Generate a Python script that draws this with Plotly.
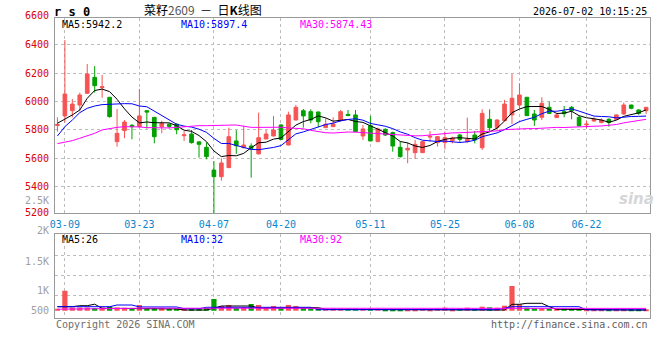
import plotly.graph_objects as go

# ---------------- data ----------------
dates = [
    "03-06", "03-09", "03-10", "03-11", "03-12", "03-13", "03-16", "03-17", "03-18", "03-19", "03-20",
    "03-23", "03-24", "03-25", "03-26", "03-27", "03-30", "03-31",
    "04-01", "04-02", "04-03", "04-07", "04-08", "04-09", "04-10", "04-13", "04-14", "04-15", "04-16",
    "04-17", "04-20", "04-21", "04-22", "04-23", "04-24", "04-27", "04-28", "04-29", "04-30",
    "05-06", "05-07", "05-08", "05-11", "05-12", "05-13", "05-14", "05-15", "05-18", "05-19", "05-20",
    "05-21", "05-22", "05-25", "05-26", "05-27", "05-28", "05-29",
    "06-01", "06-02", "06-03", "06-04", "06-05", "06-08", "06-09", "06-10", "06-11", "06-12", "06-15",
    "06-16", "06-17", "06-18", "06-22", "06-23", "06-24", "06-25", "06-26", "06-29", "06-30",
    "07-01", "07-02",
]

opens = [5830, 5898, 5935, 5975, 6058, 6171, 6098, 6030, 5716, 5794,
         5832, 5822, 5935, 5888, 5822, 5839, 5839, 5758, 5770, 5714,
         5676, 5515, 5468, 5532, 5721, 5673, 5685, 5629, 5735, 5756,
         5834, 5692, 5869, 5935, 5928, 5926, 5815, 5822, 5865, 5909,
         5905, 5756, 5829, 5716, 5803, 5780, 5676, 5657, 5638, 5638,
         5748, 5709, 5709, 5723, 5763, 5716, 5763, 5673, 5874, 5817,
         5865, 5905, 5975, 6030, 5912, 5888, 5959, 5886, 5928, 5959,
         5888, 5835, 5862, 5851, 5874, 5874, 5912, 5975, 5940, 5935]
highs = [5888, 6435, 6018, 6063, 6265, 6251, 6188, 6032, 5947, 5869,
         5840, 6089, 5940, 5890, 5864, 5846, 5846, 5791, 5798, 5721,
         5711, 5579, 5598, 5815, 5798, 5829, 5704, 5921, 5798, 5898,
         5839, 5928, 5976, 5947, 5945, 5928, 5881, 5888, 5940, 5940,
         5940, 5834, 5898, 5815, 5810, 5787, 5716, 5709, 5728, 5720,
         5791, 5756, 5787, 5751, 5770, 5886, 5791, 5945, 5945, 5874,
         6011, 6195, 6129, 6032, 5940, 6030, 5999, 5921, 5968, 5968,
         5898, 5864, 5888, 5881, 5881, 5909, 5992, 5977, 5945, 5961]
lows = [5787, 5850, 5888, 5930, 6055, 6063, 6027, 5886, 5681, 5740,
        5733, 5817, 5808, 5704, 5775, 5810, 5768, 5721, 5702, 5603,
        5591, 5205, 5440, 5530, 5629, 5669, 5461, 5627, 5733, 5754,
        5728, 5690, 5867, 5815, 5846, 5817, 5813, 5820, 5857, 5898,
        5785, 5728, 5719, 5714, 5756, 5645, 5603, 5563, 5593, 5636,
        5716, 5681, 5662, 5704, 5709, 5709, 5704, 5657, 5791, 5794,
        5857, 5841, 5952, 5898, 5827, 5869, 5912, 5884, 5888, 5874,
        5822, 5810, 5857, 5846, 5822, 5869, 5905, 5945, 5905, 5912]
closes = [5838, 6053, 5982, 6046, 6195, 6112, 6104, 5893, 5775, 5855,
          5822, 5898, 5925, 5751, 5846, 5824, 5800, 5764, 5709, 5697,
          5610, 5468, 5565, 5751, 5687, 5692, 5668, 5744, 5770, 5798,
          5732, 5905, 5959, 5898, 5869, 5857, 5839, 5841, 5928, 5900,
          5787, 5806, 5721, 5806, 5763, 5685, 5610, 5669, 5697, 5716,
          5754, 5751, 5744, 5740, 5732, 5732, 5728, 5916, 5815, 5869,
          5982, 6023, 6046, 5900, 5869, 5987, 5916, 5905, 5914, 5935,
          5829, 5840, 5874, 5869, 5851, 5905, 5975, 5952, 5916, 5959]

ma5 = [5846, 5874, 5905, 5940, 6023, 6078, 6088, 6070, 6016, 5948,
       5890, 5849, 5855, 5850, 5848, 5849, 5829, 5797, 5789, 5759,
       5716, 5650, 5610, 5618, 5616, 5633, 5673, 5708, 5712, 5734,
       5742, 5790, 5833, 5858, 5873, 5898, 5884, 5861, 5867, 5873,
       5859, 5852, 5828, 5804, 5777, 5756, 5717, 5707, 5685, 5675,
       5689, 5717, 5732, 5741, 5744, 5740, 5735, 5770, 5785, 5812,
       5862, 5921, 5947, 5964, 5964, 5965, 5944, 5915, 5918, 5931,
       5900, 5885, 5878, 5869, 5853, 5868, 5895, 5910, 5920, 5941]
ma10 = [5756, 5822, 5869, 5921, 5952, 5968, 5978, 5982, 5982, 5985,
        5984, 5968, 5963, 5933, 5898, 5869, 5839, 5826, 5819, 5804,
        5782, 5739, 5703, 5703, 5688, 5674, 5661, 5659, 5665, 5675,
        5688, 5731, 5771, 5785, 5804, 5820, 5837, 5847, 5863, 5873,
        5878, 5868, 5845, 5835, 5825, 5808, 5785, 5768, 5744, 5726,
        5723, 5717, 5720, 5713, 5710, 5715, 5726, 5751, 5763, 5778,
        5801, 5828, 5858, 5874, 5888, 5914, 5932, 5931, 5941, 5948,
        5932, 5914, 5897, 5894, 5892, 5884, 5890, 5894, 5895, 5897]
ma30 = [5702, 5711, 5723, 5740, 5756, 5775, 5799, 5810, 5817, 5822,
        5822, 5820, 5815, 5813, 5813, 5813, 5817, 5822, 5829, 5829,
        5829, 5831, 5831, 5834, 5834, 5825, 5817, 5817, 5817, 5821,
        5818, 5813, 5812, 5807, 5796, 5788, 5779, 5777, 5782, 5784,
        5783, 5780, 5773, 5775, 5772, 5767, 5761, 5758, 5757, 5758,
        5763, 5772, 5778, 5778, 5779, 5781, 5783, 5788, 5790, 5792,
        5801, 5805, 5807, 5808, 5808, 5812, 5814, 5817, 5816, 5817,
        5819, 5820, 5825, 5827, 5830, 5837, 5849, 5859, 5866, 5874]

volumes = [80, 800, 130, 130, 130, 110, 130, 170, 130, 120,
           90, 230, 100, 110, 120, 90, 100, 90, 90, 100,
           110, 470, 190, 230, 110, 135, 270, 230, 135, 190,
           110, 230, 190, 110, 100, 100, 80, 80, 80, 80,
           80, 80, 80, 80, 70, 70, 70, 70, 70, 80,
           70, 80, 120, 70, 80, 120, 80, 160, 135, 120,
           200, 990, 255, 120, 100, 100, 90, 80, 80, 80,
           80, 70, 70, 70, 60, 50, 60, 50, 40, 40]
vol_ma5 = [160, 160, 160, 200, 200, 260, 95, 95, 95, 95,
           95, 95, 70, 70, 70, 70, 70, 28, 28, 28,
           28, 100, 188, 188, 188, 188, 188, 108, 108, 108,
           108, 108, 120, 120, 120, 120, 56, 56, 56, 56,
           56, 28, 28, 28, 28, 28, 28, 28, 28, 28,
           28, 28, 28, 28, 28, 28, 28, 28, 28, 28,
           28, 256, 256, 296, 296, 296, 160, 56, 56, 56,
           56, 28, 28, 28, 28, 28, 28, 28, 28, 26]
vol_ma10 = [160, 160, 160, 160, 160, 160, 160, 160, 228, 228,
            228, 150, 150, 150, 150, 150, 150, 80, 80, 80,
            136, 136, 136, 136, 136, 136, 136, 136, 136, 136,
            136, 136, 136, 136, 136, 40, 40, 40, 40, 40,
            40, 40, 40, 40, 40, 40, 40, 40, 40, 40,
            40, 40, 40, 40, 40, 40, 40, 40, 40, 40,
            100, 160, 160, 160, 160, 160, 160, 160, 160, 160,
            160, 32, 32, 32, 32, 32, 32, 32, 32, 32]
vol_ma30 = [60, 65, 70, 75, 80, 85, 90, 95, 100, 105,
            110, 115, 120, 105, 100, 100, 100, 95, 90, 88,
            85, 85, 85, 85, 85, 85, 85, 85, 85, 85,
            85, 85, 85, 85, 85, 85, 85, 85, 85, 85,
            85, 85, 85, 85, 85, 85, 85, 85, 85, 88,
            90, 92, 94, 95, 96, 96, 96, 96, 96, 96,
            96, 96, 96, 96, 96, 96, 96, 96, 96, 96,
            96, 96, 95, 95, 94, 94, 93, 93, 92, 92]

x_tick_labels = ["03-09", "03-23", "04-07", "04-20", "05-11", "05-25", "06-08", "06-22"]
price_ticks = [6600, 6400, 6200, 6000, 5800, 5600, 5400, 5200]
vol_tick_labels = ["2.5K", "2K", "1.5K", "1K", "500"]
vol_grid_vals = [600, 1400, 2200]
ma_labels = ["MA5:5942.2", "MA10:5897.4", "MA30:5874.43"]
vol_ma_labels = ["MA5:26", "MA10:32", "MA30:92"]
title_parts = ["菜籽", "2609", "日", "K", "线图"]
timestamp = "2026-07-02 10:15:25"
symbol = "r s 0"
footer_left = "Copyright 2026 SINA.COM"
footer_right = "http://finance.sina.com.cn"
watermark = "sina"

# ---------------- style ----------------
W, H = 660, 360
RED = "#F65454"
GREEN = "#00A000"
GRID = "#BDBDBD"
FRAME = "#9A9A9A"
XBLUE = "#0A86CC"
YRED = "#DD0000"
MONO = "DejaVu Sans Mono, Liberation Mono, monospace"
CJK = "Noto Sans CJK SC, Noto Sans, sans-serif"
LINE_COLORS = ["#000000", "#0000FF", "#FF00FF"]


def px(x):
    return x / W


def py(y):
    return 1 - y / H


X_DOM = [px(50.5), px(650)]
MAIN_DOM = [py(213), py(18)]
VOL_DOM = [py(318), py(234.3)]
X_RANGE = [-0.31, 79.53]

vol_colors = [RED if c >= o else GREEN for o, c in zip(opens, closes)]

fig = go.Figure()
fig.add_trace(go.Candlestick(
    x=dates, open=opens, high=highs, low=lows, close=closes,
    xaxis="x", yaxis="y", whiskerwidth=0, hoverinfo="skip",
    increasing=dict(line=dict(color=RED, width=1), fillcolor=RED),
    decreasing=dict(line=dict(color=GREEN, width=1), fillcolor=GREEN),
))
for series, col in zip([ma5, ma10, ma30], LINE_COLORS):
    fig.add_trace(go.Scatter(x=dates, y=series, mode="lines", xaxis="x", yaxis="y",
                             line=dict(color=col, width=1), hoverinfo="skip"))

fig.add_trace(go.Bar(x=dates, y=volumes, xaxis="x2", yaxis="y2", width=0.7,
                     marker=dict(color=vol_colors, line=dict(width=0)), hoverinfo="skip"))
for series, col in zip([vol_ma5, vol_ma10, vol_ma30], LINE_COLORS):
    fig.add_trace(go.Scatter(x=dates, y=series, mode="lines", xaxis="x2", yaxis="y2",
                             line=dict(color=col, width=1), hoverinfo="skip"))

axis_common = dict(showline=True, mirror=True, linecolor=FRAME, linewidth=1,
                   showgrid=True, gridcolor=GRID, griddash="dot", gridwidth=1,
                   zeroline=False, fixedrange=True)

fig.update_layout(
    width=W, height=H, margin=dict(l=0, r=0, t=0, b=0),
    paper_bgcolor="white", plot_bgcolor="white", showlegend=False,
    xaxis=dict(domain=X_DOM, type="category", range=X_RANGE, anchor="y",
               tickmode="array", tickvals=x_tick_labels, ticktext=x_tick_labels,
               ticks="outside", ticklen=2, tickcolor="rgba(0,0,0,0)",
               tickfont=dict(family=MONO, size=10, color=XBLUE),
               rangeslider=dict(visible=False), **axis_common),
    yaxis=dict(domain=MAIN_DOM, range=[5211, 6591], anchor="x",
               tickmode="array", tickvals=price_ticks[1:-1],
               ticktext=[str(v) for v in price_ticks[1:-1]],
               ticks="outside", ticklen=3, tickcolor="rgba(0,0,0,0)",
               tickfont=dict(family=MONO, size=10, color=YRED), **axis_common),
    xaxis2=dict(domain=X_DOM, type="category", range=X_RANGE, anchor="y2",
                tickmode="array", tickvals=x_tick_labels, showticklabels=False,
                ticks="", **axis_common),
    yaxis2=dict(domain=VOL_DOM, range=[-292, 3056], anchor="x2",
                tickmode="array", tickvals=vol_grid_vals, showticklabels=False,
                ticks="", **axis_common),
    bargap=0.3,
)

ann = []


def label(text, x, y, color="#000000", size=10, family=MONO, xanchor="left"):
    ann.append(dict(text=text, x=px(x), y=py(y), xref="paper", yref="paper",
                    showarrow=False, xanchor=xanchor, yanchor="middle",
                    font=dict(family=family, size=size, color=color)))


# header
label("<b>" + symbol + "</b>", 47, 12, size=12)
title = (title_parts[0] + "<span style='color:#555555'>" + title_parts[1] + "</span>"
         + "  －  " + title_parts[2] + "<b>" + title_parts[3] + "</b>" + title_parts[4])
label(title, 200, 9.5, size=12, family=CJK, xanchor="center")
label(timestamp, 649, 12, xanchor="right")

# MA labels
for txt, col, x in zip(ma_labels, LINE_COLORS, [55, 175, 295]):
    label(txt, x, 24.5, color=col)
for txt, col, x in zip(vol_ma_labels, LINE_COLORS, [55, 175, 295]):
    label(txt, x, 239.5, color=col)

# outer price labels (6600 on top edge, 5200 on bottom edge)
label(str(price_ticks[0]), 46.5, 15.5, color=YRED, xanchor="right")
label(str(price_ticks[-1]), 46.5, 212.5, color=YRED, xanchor="right")

# volume labels
for txt, y in zip(vol_tick_labels, [200.7, 230.7, 261, 290.7, 310.7]):
    label(txt, 46.5, y, color="#A0A0A0", xanchor="right")

# footer
label(footer_left, 49, 324, color="#6E6E6E")
label(footer_right, 650, 324, color="#5E5E5E", xanchor="right")

# watermark
ann.append(dict(text="<b><i>" + watermark + "</i></b>", x=px(636), y=py(199), xref="paper", yref="paper",
                showarrow=False, xanchor="center", yanchor="middle",
                font=dict(family="DejaVu Sans, sans-serif", size=15, color="#D6D6D6")))

fig.update_layout(annotations=ann)

fig.write_html("out.html")
